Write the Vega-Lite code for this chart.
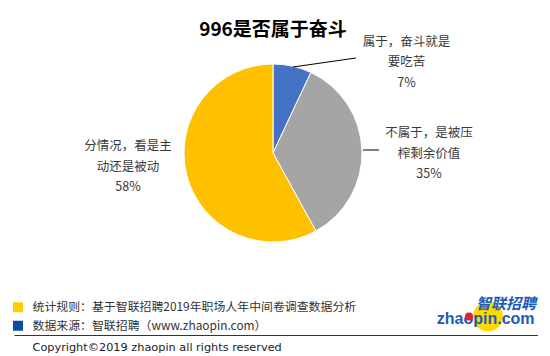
{
  "$schema": "https://vega.github.io/schema/vega-lite/v6.json",
  "padding": {"top": 20, "left": 13, "right": 0, "bottom": 0},
  "autosize": "pad",
  "spacing": 26,
  "config": {"view": {"stroke": null}, "font": "Noto Sans CJK SC"},
  "resolve": {"scale": {"color": "independent"}, "legend": {"color": "independent"}},
  "vconcat": [
    {
      "width": 518,
      "height": 234,
      "title": {"text": "996是否属于奋斗", "fontSize": 19, "fontWeight": "bold", "color": "#000000", "anchor": "middle", "offset": -4, "font": "Noto Sans CJK SC"},
      "data": {"values": [
        {"order": 1, "cat": "属于，奋斗就是要吃苦", "label": "属于，奋斗就是\n要吃苦\n7%", "value": 7},
        {"order": 2, "cat": "不属于，是被压榨剩余价值", "label": "不属于，是被压\n榨剩余价值\n35%", "value": 35},
        {"order": 3, "cat": "分情况，看是主动还是被动", "label": "分情况，看是主\n动还是被动\n58%", "value": 58}
      ]},
      "layer": [
        {
          "mark": {"type": "arc", "radius": 89, "stroke": "#ffffff", "strokeWidth": 1},
          "encoding": {
            "theta": {"field": "value", "type": "quantitative", "stack": true, "scale": {"domain": [0, 100]}},
            "order": {"field": "order", "type": "quantitative"},
            "color": {"field": "cat", "type": "nominal", "scale": {"domain": ["属于，奋斗就是要吃苦", "不属于，是被压榨剩余价值", "分情况，看是主动还是被动"], "range": ["#4472C4", "#A5A5A5", "#FFC000"]}, "legend": null}
          }
        },
        {
          "mark": {"type": "text", "radius": 80, "dx": 116, "dy": -33, "lineBreak": "\n", "lineHeight": 20.5, "fontSize": 12.5, "color": "#3a3a3a", "align": "center", "baseline": "middle"},
          "encoding": {
            "theta": {"field": "value", "type": "quantitative", "stack": true},
            "order": {"field": "order", "type": "quantitative"},
            "text": {"condition": {"test": "datum.order === 1", "field": "label"}, "value": ""}
          }
        },
        {
          "mark": {"type": "text", "radius": 80, "dx": 76, "dy": -17, "lineBreak": "\n", "lineHeight": 20.5, "fontSize": 12.5, "color": "#3a3a3a", "align": "center", "baseline": "middle"},
          "encoding": {
            "theta": {"field": "value", "type": "quantitative", "stack": true},
            "order": {"field": "order", "type": "quantitative"},
            "text": {"condition": {"test": "datum.order === 2", "field": "label"}, "value": ""}
          }
        },
        {
          "mark": {"type": "text", "radius": 80, "dx": -67.5, "dy": -26.5, "lineBreak": "\n", "lineHeight": 20.5, "fontSize": 12.5, "color": "#3a3a3a", "align": "center", "baseline": "middle"},
          "encoding": {
            "theta": {"field": "value", "type": "quantitative", "stack": true},
            "order": {"field": "order", "type": "quantitative"},
            "text": {"condition": {"test": "datum.order === 3", "field": "label"}, "value": ""}
          }
        },
        {
          "transform": [{"filter": "datum.order === 1"}],
          "mark": {"type": "point", "shape": "M20,-86L83,-95", "size": 4, "filled": false, "stroke": "#000000", "strokeWidth": 1, "opacity": 1},
          "encoding": {}
        },
        {
          "transform": [{"filter": "datum.order === 2"}],
          "mark": {"type": "point", "shape": "M90,-3L106,-3", "size": 4, "filled": false, "stroke": "#000000", "strokeWidth": 1, "opacity": 1},
          "encoding": {}
        }
      ]
    },
    {
      "width": 524,
      "height": 37,
      "data": {"values": [
        {"row": "统计规则：基于智联招聘2019年职场人年中间卷调查数据分析", "kind": "统计规则"},
        {"row": "数据来源：智联招聘（www.zhaopin.com）", "kind": "数据来源"}
      ]},
      "layer": [
        {
          "mark": {"type": "square", "size": 100, "opacity": 1},
          "encoding": {
            "x": {"datum": 4, "type": "quantitative", "scale": {"domain": [0, 524], "nice": false, "zero": false}, "axis": {"title": "Copyright©2019 zhaopin all rights reserved", "domain": true, "domainColor": "#333333", "domainWidth": 1, "ticks": false, "labels": false, "grid": false, "titleAnchor": "start", "titleAlign": "left", "titleBaseline": "middle", "titleX": 18, "titleY": 12, "titleFont": "DejaVu Sans", "titleFontSize": 11.3, "titleFontWeight": "normal", "titleColor": "#222222"}},
            "y": {"field": "row", "type": "nominal", "sort": null, "scale": {"type": "point", "padding": 0.5}, "axis": null},
            "color": {"field": "kind", "type": "nominal", "scale": {"domain": ["统计规则", "数据来源"], "range": ["#FFCC00", "#0A4BA6"]}, "legend": null}
          }
        },
        {
          "mark": {"type": "text", "align": "left", "baseline": "middle", "fontSize": 11.9, "color": "#333333"},
          "encoding": {
            "x": {"datum": 18.5, "type": "quantitative"},
            "y": {"field": "row", "type": "nominal", "sort": null},
            "text": {"field": "row"}
          }
        },
        {
          "data": {"values": [{"brand": "智联招聘", "site": "zhaopin.com"}]},
          "mark": {"type": "circle", "size": 900, "color": "#FFD800", "opacity": 1},
          "encoding": {"x": {"datum": 474, "type": "quantitative"}}
        },
        {
          "data": {"values": [{"brand": "智联招聘", "site": "zhaopin.com"}]},
          "mark": {"type": "text", "align": "center", "baseline": "middle", "fontSize": 15, "fontWeight": "bold", "fontStyle": "italic", "color": "#1C5CB8", "dy": -13},
          "encoding": {"x": {"datum": 492, "type": "quantitative"}, "text": {"field": "brand"}}
        },
        {
          "data": {"values": [{"brand": "智联招聘", "site": "zhaopin.com"}]},
          "mark": {"type": "text", "align": "left", "baseline": "middle", "fontSize": 16, "fontWeight": "bold", "font": "Liberation Sans", "color": "#1C5CB8", "dy": 2},
          "encoding": {"x": {"datum": 422.8, "type": "quantitative"}, "text": {"field": "site"}}
        },
        {
          "data": {"values": [{"brand": "智联招聘", "site": "zhaopin.com"}]},
          "mark": {"type": "circle", "size": 64, "color": "#D9232D", "opacity": 1},
          "encoding": {"x": {"datum": 455, "type": "quantitative"}}
        }
      ]
    }
  ]
}
